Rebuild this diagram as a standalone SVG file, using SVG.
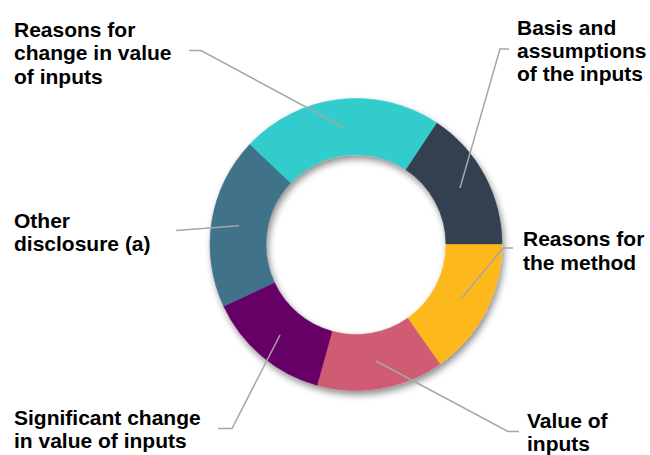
<svg xmlns="http://www.w3.org/2000/svg" width="650" height="455" viewBox="0 0 650 455">
  <defs>
    <filter id="ringShadow" x="-20%" y="-20%" width="140%" height="140%">
      <feGaussianBlur in="SourceAlpha" stdDeviation="3.5"/>
      <feOffset dx="2" dy="4" result="blur"/>
      <feComponentTransfer>
        <feFuncA type="linear" slope="0.45"/>
      </feComponentTransfer>
      <feMerge>
        <feMergeNode/>
        <feMergeNode in="SourceGraphic"/>
      </feMerge>
    </filter>
  </defs>
  <style>
    .label { font-family: "Liberation Sans", Arial, sans-serif; font-weight: bold; font-size: 21px; fill: #000000; }
    .leader { fill: none; stroke: #A6A6A6; stroke-width: 1.5; }
    .seg { stroke-width: 0.6; }
  </style>
  <rect width="650" height="455" fill="#FFFFFF"/>

  <!-- donut ring, centre (356,244.5), outer r 146, inner r 90 -->
  <g id="ring" filter="url(#ringShadow)">
    <g id="seg-basis">
      <path class="seg" fill="#333F50" stroke="#333F50" d="M436.58,122.75 A146,146 0 0 1 502,244.5 L446,244.5 A90,90 0 0 0 405.67,169.45 Z"/>
    </g>
    <g id="seg-method">
      <path class="seg" fill="#FDB81E" stroke="#FDB81E" d="M502,244.5 A146,146 0 0 1 439.74,364.1 L407.62,318.23 A90,90 0 0 0 446,244.5 Z"/>
    </g>
    <g id="seg-value">
      <path class="seg" fill="#D05C73" stroke="#D05C73" d="M439.74,364.1 A146,146 0 0 1 316.99,385.19 L331.95,331.22 A90,90 0 0 0 407.62,318.23 Z"/>
    </g>
    <g id="seg-significant">
      <path class="seg" fill="#660066" stroke="#660066" d="M316.99,385.19 A146,146 0 0 1 223.68,306.2 L274.43,282.53 A90,90 0 0 0 331.95,331.22 Z"/>
    </g>
    <g id="seg-other">
      <path class="seg" fill="#40728A" stroke="#40728A" d="M223.68,306.2 A146,146 0 0 1 249.92,144.18 L290.61,182.66 A90,90 0 0 0 274.43,282.53 Z"/>
    </g>
    <g id="seg-change">
      <path class="seg" fill="#33CCCC" stroke="#33CCCC" d="M249.92,144.18 A146,146 0 0 1 436.58,122.75 L405.67,169.45 A90,90 0 0 0 290.61,182.66 Z"/>
    </g>
  </g>

  <!-- leader lines -->
  <g id="connectors">
    <polyline class="leader" points="189,50.5 201,50.5 343,127"/>
    <polyline class="leader" points="509,49 500,49 460,188"/>
    <polyline class="leader" points="176,230.5 239,225.7"/>
    <polyline class="leader" points="513,248 503,248 461,299"/>
    <polyline class="leader" points="218,428.5 232,428.5 280,335"/>
    <polyline class="leader" points="376,361 508,431.5 519,431.5"/>
  </g>

  <!-- labels -->
  <g id="label-change">
    <text class="label" x="14" y="36.5">Reasons for</text>
    <text class="label" x="14" y="60">change in value</text>
    <text class="label" x="14" y="83.5">of inputs</text>
  </g>
  <g id="label-basis">
    <text class="label" x="517" y="35">Basis and</text>
    <text class="label" x="517" y="58">assumptions</text>
    <text class="label" x="517" y="81">of the inputs</text>
  </g>
  <g id="label-other">
    <text class="label" x="14" y="228">Other</text>
    <text class="label" x="14" y="251">disclosure (a)</text>
  </g>
  <g id="label-method">
    <text class="label" x="523" y="246">Reasons for</text>
    <text class="label" x="523" y="270">the method</text>
  </g>
  <g id="label-significant">
    <text class="label" x="14" y="425">Significant change</text>
    <text class="label" x="14" y="448">in value of inputs</text>
  </g>
  <g id="label-value">
    <text class="label" x="527" y="428">Value of</text>
    <text class="label" x="527" y="451">inputs</text>
  </g>
</svg>
